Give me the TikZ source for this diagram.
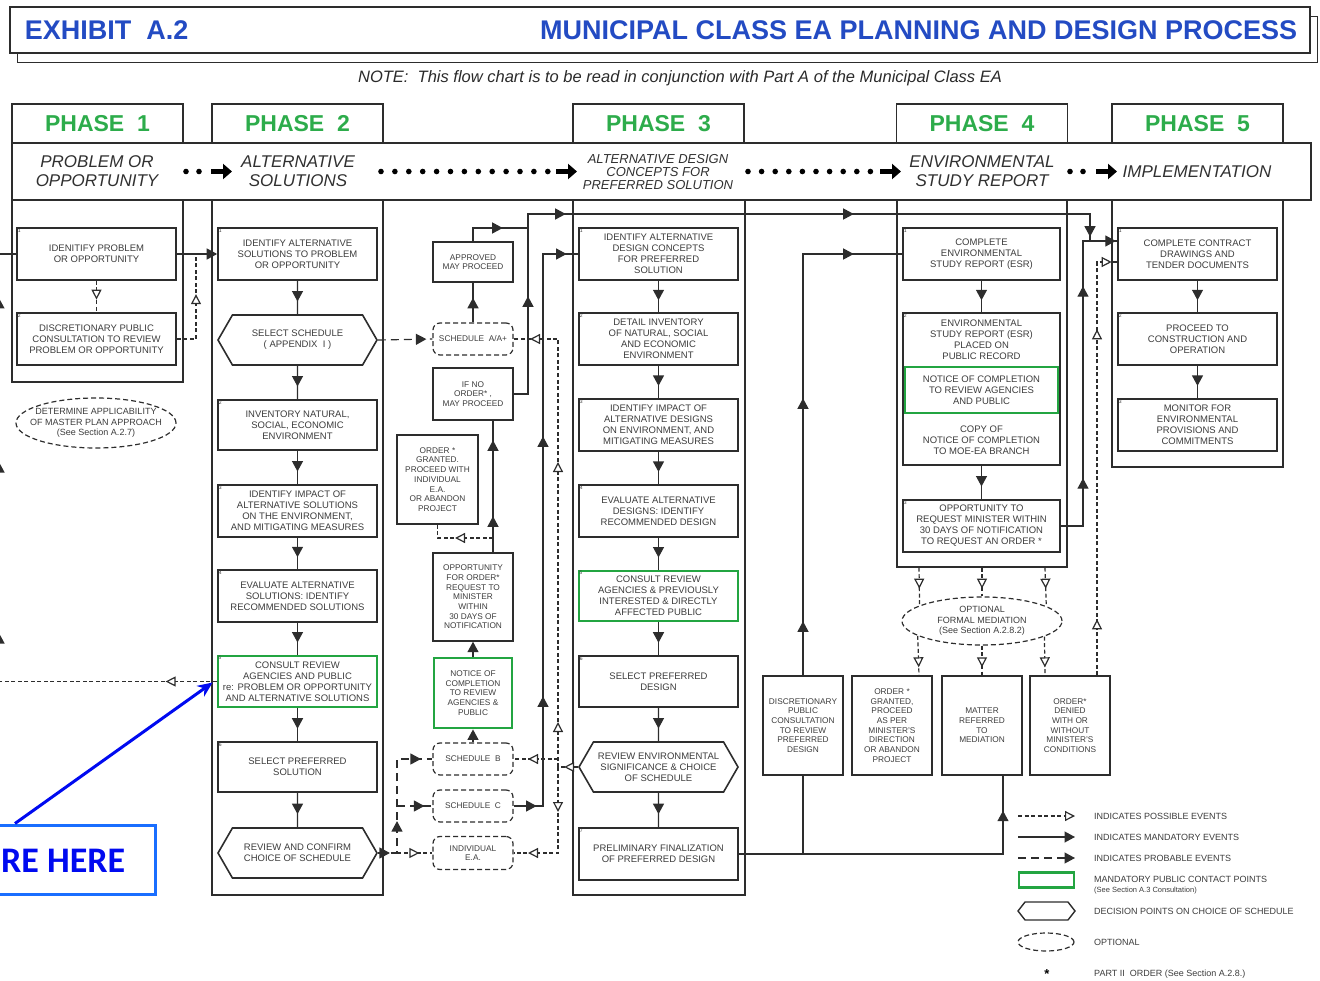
\documentclass[tikz,border=0pt]{standalone}
\usepackage{fontspec}
\setmainfont{Liberation Sans}
\newfontfamily\herefamily{Carlito}
\usetikzlibrary{arrows.meta,positioning,shapes.geometric,shapes.symbols,decorations.markings}

\definecolor{lineC}{RGB}{45,45,45}
\definecolor{txtC}{RGB}{60,60,60}
\definecolor{greenC}{RGB}{35,165,65}
\definecolor{phaseC}{RGB}{45,172,75}
\definecolor{titleC}{RGB}{35,75,195}
\definecolor{hereC}{RGB}{0,10,240}
\definecolor{hereBox}{RGB}{25,110,255}

\newcommand{\boxfont}{\fontsize{9.5}{11}\selectfont}
\newcommand{\smbox}{\fontsize{8.3}{9.7}\selectfont}
\newcommand{\numfont}{\fontsize{5}{6}\selectfont}
\newcommand{\phasefont}{\fontsize{23}{24}\selectfont\bfseries}
\newcommand{\bandfont}{\fontsize{17}{19}\selectfont\itshape}
\newcommand{\titlefont}{\fontsize{27}{28}\selectfont\bfseries}
\newcommand{\legfont}{\fontsize{9}{10.5}\selectfont}

\tikzset{
  headF/.tip={Triangle[length=10.5pt,width=11pt]},
  headO/.tip={Triangle[length=10pt,width=10pt,fill=white]},
  fa/.style={postaction={decorate,decoration={markings,mark=at position #1 with {\arrow{headF}}}}},
  oa/.style={postaction={decorate,decoration={markings,mark=at position #1 with {\arrow{headO}}}}},
  mand/.style={draw=lineC, line width=1.3pt},
  poss/.style={draw=lineC, line width=1.2pt, dash pattern=on 4pt off 2.5pt},
  prob/.style={draw=lineC, line width=1.2pt, dash pattern=on 8pt off 5pt},
  stepbox/.style={draw=lineC, line width=1.6pt, text=txtC, font=\boxfont, align=center,
    minimum width=159pt, minimum height=52pt, inner sep=1pt},
  pubbox/.style={stepbox, draw=greenC, line width=2.8pt},
  decbox/.style={stepbox, shape=signal, signal to=west and east, signal pointer angle=120,
    minimum height=50pt},
  midbox/.style={draw=lineC, line width=1.4pt, text=txtC, font=\smbox, align=center,
    minimum width=80pt, inner sep=1pt},
  schedbox/.style={draw=lineC, line width=1.2pt, dash pattern=on 5pt off 3pt, rounded corners=7pt,
    text=txtC, font=\smbox, align=center, minimum width=80pt, minimum height=32pt, inner sep=1pt},
  oval/.style={ellipse, draw=lineC, line width=1.2pt, dash pattern=on 5pt off 3pt, inner sep=0pt},
  ovaltxt/.style={text=txtC, font=\fontsize{9}{10.5}\selectfont, align=center, inner sep=0pt},
  col/.style={draw=lineC, line width=1.3pt, inner sep=0pt},
  tab/.style={col, minimum width=171pt, minimum height=39pt, text=phaseC, font=\phasefont},
  bandtxt/.style={text=txtC!80!black, font=\bandfont, align=center, inner sep=0pt},
  legtxt/.style={anchor=west, inner sep=0pt, text=txtC, font=\legfont, align=left},
  fatarrow/.style={draw=black, line width=5pt, -{Triangle[length=9pt,width=15pt]}},
  n/.style={label={[anchor=north west, font=\numfont, text=txtC, inner sep=1.5pt]north west:#1}}
}

\begin{document}
\begin{tikzpicture}[x=1pt,y=-1pt]
\useasboundingbox (0,0) rectangle (1320,981);

% title
\node[col, minimum width=1300pt, minimum height=46pt] (ttl) at (660,30) {};
\draw[draw=lineC, line width=1.2pt] ([xshift=8pt]ttl.south west) -- ++(0,9) -- ++(1300,0) -- ++(0,-46) -- ++(-8,0);
\node[anchor=west, font=\titlefont, text=titleC] (ttlL) at ([xshift=12pt]ttl.west) {EXHIBIT\ \ A.2};
\node[anchor=east, font=\titlefont, text=titleC] (ttlR) at ([xshift=-10pt]ttl.east) {MUNICIPAL CLASS EA PLANNING AND DESIGN PROCESS};
\node[font=\fontsize{16.5}{16.5}\selectfont\itshape, text=txtC!70!black] (note) at (680,78)
  {NOTE:\ \ This flow chart is to be read in conjunction with Part A of the Municipal Class EA};

% phase tabs, band and columns
\node[tab] (t1) at (97.5,123.5) {PHASE\ \ 1};
\node[tab] (t2) at (297.5,123.5) {PHASE\ \ 2};
\node[tab] (t3) at (658.5,123.5) {PHASE\ \ 3};
\node[tab] (t4) at (982,123.5) {PHASE\ \ 4};
\node[tab] (t5) at (1197.5,123.5) {PHASE\ \ 5};
\node[col, minimum width=1299pt, minimum height=57pt] (band) at (661.5,171.5) {};
\node[col, minimum width=171pt, minimum height=182pt] (c1) at (97.5,291) {};
\node[col, minimum width=171pt, minimum height=695pt] (c2) at (297.5,547.5) {};
\node[col, minimum width=172pt, minimum height=695pt] (c3) at (659,547.5) {};
\node[col, minimum width=170pt, minimum height=367pt] (c4) at (982,383.5) {};
\node[col, minimum width=171pt, minimum height=267pt] (c5) at (1197.5,333.5) {};

\node[bandtxt] (b1) at (97,171.5) {PROBLEM OR\\OPPORTUNITY};
\node[bandtxt] (b2) at (298,171.5) {ALTERNATIVE\\SOLUTIONS};
\node[bandtxt, font=\fontsize{13}{13}\selectfont\itshape] (b3) at (658,172) {ALTERNATIVE DESIGN\\CONCEPTS FOR\\PREFERRED SOLUTION};
\node[bandtxt] (b4) at (982,171.5) {ENVIRONMENTAL\\STUDY REPORT};
\node[bandtxt] (b5) at (1197,172) {IMPLEMENTATION};
\foreach \x in {186,199,1070,1083} \fill (\x,171.5) circle (2.8pt);
\foreach \i in {0,...,12} \fill (381+\i*13.9,171.5) circle (2.8pt);
\foreach \i in {0,...,9} \fill (748+\i*13.6,171.5) circle (2.8pt);
\draw[fatarrow] (211,171.5) -- (232,171.5);
\draw[fatarrow] (556,171.5) -- (577,171.5);
\draw[fatarrow] (880,171.5) -- (901,171.5);
\draw[fatarrow] (1096,171.5) -- (1117,171.5);

% phase 1
\node[stepbox, n=1] (p1a) at (96.5,254) {IDENITIFY PROBLEM\\OR OPPORTUNITY};
\node[stepbox, n=2] (p1b) at (96.5,339) {DISCRETIONARY PUBLIC\\CONSULTATION TO REVIEW\\PROBLEM OR OPPORTUNITY};
\node[oval, minimum width=160pt, minimum height=50pt] (p1o) at (96,423) {};
\node[ovaltxt] (p1ot) at (p1o) {DETERMINE APPLICABILITY\\OF MASTER PLAN APPROACH\\(See Section A.2.7)};

% phase 2
\node[stepbox, n=1] (p2a) at (297.5,254) {IDENTIFY ALTERNATIVE\\SOLUTIONS TO PROBLEM\\OR OPPORTUNITY};
\node[decbox] (p2s) at (297.5,340) {SELECT SCHEDULE\\( APPENDIX\ \ I )};
\node[stepbox, n=2, minimum height=50pt] (p2b) at (297.5,425) {INVENTORY NATURAL,\\SOCIAL, ECONOMIC\\ENVIRONMENT};
\node[stepbox, n=3] (p2c) at (297.5,511) {IDENTIFY IMPACT OF\\ALTERNATIVE SOLUTIONS\\ON THE ENVIRONMENT,\\AND MITIGATING MEASURES};
\node[stepbox, n=4] (p2d) at (297.5,596) {EVALUATE ALTERNATIVE\\SOLUTIONS: IDENTIFY\\RECOMMENDED SOLUTIONS};
\node[pubbox, n=5, minimum height=51pt] (p2e) at (297.5,681.5) {CONSULT REVIEW\\AGENCIES AND PUBLIC\\re: PROBLEM OR OPPORTUNITY\\AND ALTERNATIVE SOLUTIONS};
\node[stepbox, n=6, minimum height=50pt] (p2f) at (297.5,767) {SELECT PREFERRED\\SOLUTION};
\node[decbox] (p2r) at (297.5,853) {REVIEW AND CONFIRM\\CHOICE OF SCHEDULE};

% between phase 2 and 3
\node[midbox, minimum height=40pt] (mApp) at (473,262) {APPROVED\\MAY PROCEED};
\node[schedbox] (mSA) at (473,339) {SCHEDULE\ \ A/A+};
\node[midbox, minimum height=52pt] (mIfNo) at (473,394) {IF NO\\ORDER* ,\\MAY PROCEED};
\node[midbox, minimum width=81pt, minimum height=89pt] (mGrant) at (437.5,479.5) {ORDER *\\GRANTED.\\PROCEED WITH\\INDIVIDUAL\\E.A.\\OR ABANDON\\PROJECT};
\node[midbox, minimum height=88pt] (mOpp) at (473,597) {OPPORTUNITY\\FOR ORDER*\\REQUEST TO\\MINISTER\\WITHIN\\30 DAYS OF\\NOTIFICATION};
\node[midbox, draw=greenC, line width=2.8pt, minimum width=78pt, minimum height=70pt] (mNot) at (473,693) {NOTICE OF\\COMPLETION\\TO REVIEW\\AGENCIES \&\\PUBLIC};
\node[schedbox] (mSB) at (473,759) {SCHEDULE\ \ B};
\node[schedbox] (mSC) at (473,806) {SCHEDULE\ \ C};
\node[schedbox, minimum height=33pt] (mIEA) at (473,853) {INDIVIDUAL\\E.A.};

% phase 3
\node[stepbox, n=1] (p3a) at (658.5,254) {IDENTIFY ALTERNATIVE\\DESIGN CONCEPTS\\FOR PREFERRED\\SOLUTION};
\node[stepbox, n=2] (p3b) at (658.5,339) {DETAIL INVENTORY\\OF NATURAL, SOCIAL\\AND ECONOMIC\\ENVIRONMENT};
\node[stepbox, n=3] (p3c) at (658.5,425) {IDENTIFY IMPACT OF\\ALTERNATIVE DESIGNS\\ON ENVIRONMENT, AND\\MITIGATING MEASURES};
\node[stepbox, n=4] (p3d) at (658.5,511) {EVALUATE ALTERNATIVE\\DESIGNS: IDENTIFY\\RECOMMENDED DESIGN};
\node[pubbox, n=5, minimum height=50pt] (p3e) at (658.5,596) {CONSULT REVIEW\\AGENCIES \& PREVIOUSLY\\INTERESTED \& DIRECTLY\\AFFECTED PUBLIC};
\node[stepbox, n=6, minimum height=51pt] (p3f) at (658.5,681.5) {SELECT PREFERRED\\DESIGN};
\node[decbox] (p3s) at (658.5,767) {REVIEW ENVIRONMENTAL\\SIGNIFICANCE \& CHOICE\\OF SCHEDULE};
\node[stepbox, n=7] (p3g) at (658.5,854) {PRELIMINARY FINALIZATION\\OF PREFERRED DESIGN};

% phase 4
\node[stepbox, n=1, minimum width=157pt] (p4a) at (981.5,254) {COMPLETE\\ENVIRONMENTAL\\STUDY REPORT (ESR)};
\node[stepbox, n=2, minimum width=157pt, minimum height=152pt] (p4b) at (981.5,389) {};
\node[ovaltxt, font=\boxfont] (p4bt) at (981.5,339.5) {ENVIRONMENTAL\\STUDY REPORT (ESR)\\PLACED ON\\PUBLIC RECORD};
\node[pubbox, minimum width=153pt, minimum height=46pt] (p4bg) at (981.5,390) {NOTICE OF COMPLETION\\TO REVIEW AGENCIES\\AND PUBLIC};
\node[ovaltxt, font=\boxfont] (p4bb) at (981.5,440.5) {COPY OF\\NOTICE OF COMPLETION\\TO MOE-EA BRANCH};
\node[stepbox, n=3, minimum width=157pt] (p4c) at (981.5,526) {OPPORTUNITY TO\\REQUEST MINISTER WITHIN\\30 DAYS OF NOTIFICATION\\TO REQUEST AN ORDER *};
\node[oval, minimum width=160pt, minimum height=48pt] (p4o) at (982,621) {};
\node[ovaltxt] (p4ot) at (p4o) {OPTIONAL\\FORMAL MEDIATION\\(See Section A.2.8.2)};
\node[midbox, minimum height=99pt] (bDisc) at (803,725.5) {DISCRETIONARY\\PUBLIC\\CONSULTATION\\TO REVIEW\\PREFERRED\\DESIGN};
\node[midbox, minimum height=99pt] (bGrant) at (892,725.5) {ORDER *\\GRANTED,\\PROCEED\\AS PER\\MINISTER'S\\DIRECTION\\OR ABANDON\\PROJECT};
\node[midbox, minimum height=99pt] (bMat) at (982,725.5) {MATTER\\REFERRED\\TO\\MEDIATION};
\node[midbox, minimum height=99pt] (bDen) at (1070,725.5) {ORDER*\\DENIED\\WITH OR\\WITHOUT\\MINISTER'S\\CONDITIONS};

% phase 5
\node[stepbox, n=1] (p5a) at (1197.5,254) {COMPLETE CONTRACT\\DRAWINGS AND\\TENDER DOCUMENTS};
\node[stepbox, n=2] (p5b) at (1197.5,339) {PROCEED TO\\CONSTRUCTION AND\\OPERATION};
\node[stepbox, n=3] (p5c) at (1197.5,425) {MONITOR FOR\\ENVIRONMENTAL\\PROVISIONS AND\\COMMITMENTS};

% junctions
\coordinate (j1) at (196,254);
\coordinate (lpB) at (-1,681.5);
\coordinate (lpT) at (-1,254);
\coordinate (jA) at (528,228);
\coordinate (jT) at (528,214);
\coordinate (jR) at (1090,214);
\coordinate (j5) at (1090,241);
\coordinate (jG) at (493,538);
\coordinate (jR1) at (397,853);
\coordinate (jR2) at (397,806);
\coordinate (jD0) at (558,767);
\coordinate (jD1) at (558,759);
\coordinate (jE0) at (543,806);
\coordinate (jE1) at (543,254);
\coordinate (jF0) at (803,854);
\coordinate (jF1) at (1003,854);
\coordinate (jP4) at (803,254);
\coordinate (jK0) at (1083,526);
\coordinate (jK1) at (1083,241);
\coordinate (jH) at (1097,262);

% phase 1 links
\draw[mand, -headF] (p1a) -- (p2a);
\draw[poss, oa=0.6] (p1a) -- (p1b);
\draw[poss, oa=64pt] (p1b.east) -| (j1);
\draw[poss, oa=51pt] (p2e.west) -- (lpB);
\draw[mand, fa=48.5pt, fa=219.5pt, fa=383.5pt] (lpB) -- (lpT) -- (p1a.west);

% phase 2 chain
\foreach \a/\b in {p2a/p2s, p2s/p2b, p2b/p2c, p2c/p2d, p2d/p2e, p2e/p2f, p2f/p2r}
  \draw[mand, fa=0.62] (\a) -- (\b);

% schedules
\draw[prob, fa=-6pt] (p2s.east) -- (mSA.west);
\draw[mand, fa=0.62] (mSA) -- (mApp);
\draw[mand, fa=43pt] (mApp.north) |- (jA);
\draw[mand, fa=112pt, fa=232pt, fa=520pt, fa=779pt] (mIfNo.east) -| (jT) -- (jR) -- (j5);
\draw[mand, fa=36pt, fa=112pt] ([xshift=20pt]mOpp.north) -- ([xshift=20pt]mIfNo.south);
\draw[poss, oa=38pt] (jG) -| (mGrant.south);
\draw[mand, -headF] (mNot) -- (mOpp);
\draw[mand, -headF] (mSB) -- (mNot);
\draw[prob, fa=12pt, fa=51pt, fa=137pt] (p2r.east) -- (jR1) |- (mSB.west);
\draw[prob, fa=-8pt] (jR2) -- (mSC.west);
\draw[poss, oa=-13pt] (p2r.east) -- (mIEA.west);
\draw[poss, oa=14pt] (p3s.west) -- (jD0);
\draw[poss, oa=45pt, oa=305pt, oa=456pt] (jD0) |- (mSA.east);
\draw[poss, oa=30pt] (jD1) -- (mSB.east);
\draw[poss, oa=45pt, oa=116pt] (jD0) |- (mIEA.east);
\draw[mand, fa=23pt, fa=139pt, fa=399pt, fa=605pt] (mSC.east) -- (jE0) -- (jE1) -- (p3a.west);

% phase 3 chain
\foreach \a/\b in {p3a/p3b, p3b/p3c, p3c/p3d, p3d/p3e, p3e/p3f, p3f/p3s, p3s/p3g}
  \draw[mand, fa=0.62] (\a) -- (\b);

% phase 3 to 4
\draw[mand, fa=-35pt] (p3g.east) -- (jF1) -- ([xshift=21pt]bMat.south);
\draw[mand] (jF0) -- (bDisc.south);
\draw[mand, fa=54pt, fa=277pt, fa=472pt] (bDisc.north) -- (jP4) -- (p4a.west);

% phase 4
\draw[mand, fa=0.62] (p4a) -- (p4b);
\draw[mand, fa=0.62] (p4b) -- (p4c);
\draw[poss, oa=21pt] ([xshift=-63pt]c4.south) -- (p4o.166.8);
\draw[poss, oa=21pt] (c4.south) -- (p4o.north);
\draw[poss, oa=21pt] ([xshift=63pt]c4.south) -- (p4o.13.2);
\draw[poss, oa=-8pt] (p4o.193.2) -- ([xshift=27pt]bGrant.north);
\draw[poss, oa=-8pt] (p4o.south) -- (bMat.north);
\draw[poss, oa=-8pt] (p4o.346.8) -- ([xshift=-25pt]bDen.north);

% phase 4 to 5
\draw[mand, fa=70pt, fa=262pt, fa=340pt] (p4c.east) -- (jK0) -- (jK1) -- ([yshift=13pt]p5a.west);
\draw[poss, oa=56pt, oa=346pt, oa=428pt] ([xshift=27pt]bDen.north) -- (jH) -- ([yshift=-8pt]p5a.west);

% phase 5 chain
\draw[mand, fa=0.62] (p5a) -- (p5b);
\draw[mand, fa=0.62] (p5b) -- (p5c);

% you are here
\node[draw=hereBox, line width=3pt, minimum width=161pt, minimum height=69pt, inner sep=0pt] (you) at (74.5,859.5) {};
\node[anchor=west, inner sep=0pt, text=hereC, font=\herefamily\bfseries\fontsize{36}{36}\selectfont] (youtxt) at (1,861) {RE HERE};
\draw[draw=hereC, line width=3pt, -{Stealth[length=15pt,width=13pt]}] ([xshift=-59.5pt]you.north) -- ([xshift=-4pt,yshift=-1pt]p2e.west);

% legend
\node[legtxt] (lg1) at (1094,816) {INDICATES POSSIBLE EVENTS};
\node[legtxt] (lg2) at (1094,837) {INDICATES MANDATORY EVENTS};
\node[legtxt] (lg3) at (1094,858) {INDICATES PROBABLE EVENTS};
\node[legtxt] (lg4) at (1094,885) {MANDATORY PUBLIC CONTACT POINTS\\{\fontsize{7.5}{9}\selectfont (See Section A.3 Consultation)}};
\node[legtxt] (lg5) at (1094,911) {DECISION POINTS ON CHOICE OF SCHEDULE};
\node[legtxt] (lg6) at (1094,942) {OPTIONAL};
\node[legtxt] (lg7) at (1094,974) {PART II\ \ ORDER (See Section A.2.8.)};
\draw[poss, -headO] ([xshift=-76pt]lg1.west) -- ([xshift=-19pt]lg1.west);
\draw[mand, -headF] ([xshift=-76pt]lg2.west) -- ([xshift=-19pt]lg2.west);
\draw[prob, -headF] ([xshift=-76pt]lg3.west) -- ([xshift=-19pt]lg3.west);
\node[draw=greenC, line width=2.8pt, minimum width=55pt, minimum height=15pt, inner sep=0pt] (lgG) at ([xshift=-47.5pt,yshift=5pt]lg4.west) {};
\node[draw=lineC, line width=1.4pt, shape=signal, signal to=west and east, signal pointer angle=104,
  minimum width=57pt, minimum height=18pt, inner sep=0pt] (lgH) at ([xshift=-47.5pt]lg5.west) {};
\node[oval, minimum width=56pt, minimum height=18pt] (lgO) at ([xshift=-48pt]lg6.west) {};
\node[font=\fontsize{13}{13}\selectfont\bfseries, inner sep=1pt] (lgS) at (1047,974) {*};
\end{tikzpicture}
\end{document}
